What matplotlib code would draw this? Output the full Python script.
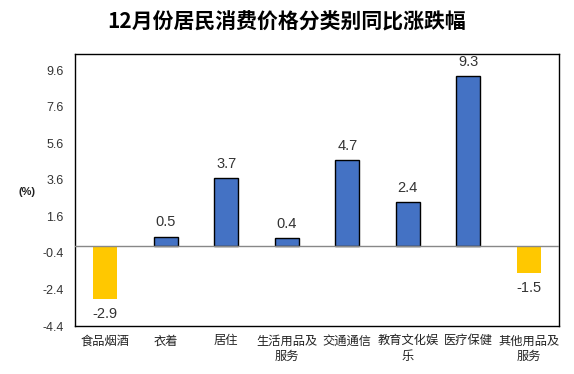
import matplotlib
matplotlib.use("Agg")
import matplotlib.pyplot as plt

categories = ["食品烟酒", "衣着", "居住", "生活用品及\n服务", "交通通信", "教育文化娱\n乐", "医疗保健", "其他用品及\n服务"]
values = [-2.9, 0.5, 3.7, 0.4, 4.7, 2.4, 9.3, -1.5]
yticks = [-4.4, -2.4, -0.4, 1.6, 3.6, 5.6, 7.6, 9.6]

plt.rcParams['font.family'] = ['Liberation Sans', 'Noto Sans CJK SC', 'DejaVu Sans']

fig = plt.figure(figsize=(5.74, 3.74), dpi=100)
ax = fig.add_axes([0.1307, 0.1283, 0.9739 - 0.1307, 0.8556 - 0.1283])

x = list(range(len(categories)))
for i, v in enumerate(values):
    if v >= 0:
        ax.bar(i, v, width=0.4, color="#4472C4", edgecolor="black", linewidth=1, zorder=3)
        ax.text(i, v + 0.4, f"{v}", ha="center", va="bottom", fontsize=10.5, color="#333333")
    else:
        ax.bar(i, v, width=0.4, color="#FFC800", edgecolor="none", zorder=3)
        ax.text(i, v - 0.45, f"{v}", ha="center", va="top", fontsize=10.5, color="#333333")

ax.axhline(0, color="#888888", linewidth=1, zorder=4)
ax.set_xlim(-0.5, len(categories) - 0.5)
ax.set_ylim(-4.4, 10.5)
ax.set_yticks(yticks)
ax.set_yticklabels([f"{t}" for t in yticks], fontsize=9, color="#333333")
ax.set_xticks(x)
ax.set_xticklabels(categories, fontsize=8.8, color="#222222", family=['Noto Sans CJK SC', 'DejaVu Sans'], linespacing=1.3)
ax.tick_params(length=0, pad=8)
ax.tick_params(axis='x', pad=6)
for s in ax.spines.values():
    s.set_color("black")
    s.set_linewidth(1)

fig.text(27 / 574, 1 - 192 / 374, "(%)", ha="center", va="center", fontsize=8, fontweight="bold", color="#222222")
fig.text(0.5, 1 - 22 / 374, "12月份居民消费价格分类别同比涨跌幅", ha="center", va="center",
         fontsize=15, fontweight="bold", family=['Noto Sans CJK SC', 'DejaVu Sans'])

fig.savefig("out.png", dpi=100)
